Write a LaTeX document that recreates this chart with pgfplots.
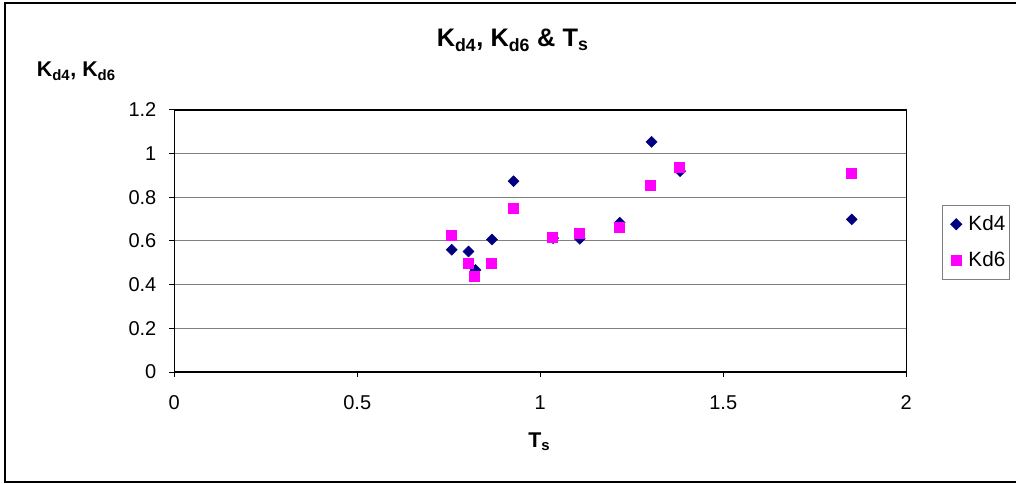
\documentclass[border=0pt]{standalone}
\usepackage{fontspec}
\setmainfont{Liberation Sans}
\usepackage{pgfplots}
\pgfplotsset{compat=1.18}
\definecolor{kdnavy}{RGB}{0,0,128}
\definecolor{kdmag}{RGB}{255,0,255}
\definecolor{gridgray}{RGB}{128,128,128}
\begin{document}
\begin{tikzpicture}
\useasboundingbox (0pt,0pt) rectangle (762pt,-363pt);
\draw[line width=1.5pt] (770pt,-2.5pt) -- (3.5pt,-2.5pt) -- (3.5pt,-361.5pt) -- (770pt,-361.5pt);
\begin{axis}[
  at={(130.7pt,-279pt)}, anchor=south west,
  scale only axis, width=549pt, height=196.5pt,
  xmin=0, xmax=2, ymin=0, ymax=1.2,
  xtick={0,0.5,1,1.5,2}, ytick={0,0.2,0.4,0.6,0.8,1,1.2},
  axis line style={black, line width=1pt},
  ymajorgrids, major grid style={gridgray, line width=0.75pt},
  tick align=outside, tick pos=left,
  major tick length=3.75pt,
  tick style={black, line width=0.75pt},
  /pgf/number format/assume math mode=true,
  ticklabel style={font=\fontsize{15}{18}\selectfont},
  yticklabel style={inner sep=0pt, anchor=east, xshift=-9.5pt},
  xticklabel style={inner sep=0pt, anchor=north, yshift=-14pt},
  legend style={at={(1.0488,0.6385)}, anchor=north west, draw=gridgray, line width=0.75pt,
    font=\fontsize{15.5}{18}\selectfont, inner xsep=2pt, inner ysep=4.9pt, row sep=8.2pt,
    nodes={inner xsep=1.5pt, inner ysep=3pt}},
  legend image code/.code={\path[draw=none,fill=none] (0pt,-1pt) rectangle (16pt,1pt); \path[#1, draw=none] plot coordinates {(8.3pt,0pt)};},
  legend cell align=left,
]
\addplot[only marks, mark=square*, mark size=2.9pt, mark options={rotate=45, fill=kdnavy, draw=kdnavy}, color=kdnavy]
coordinates {
(0.758,0.560) (0.804,0.552) (0.823,0.467) (0.868,0.607) (0.927,0.874)
(1.035,0.613) (1.108,0.610) (1.217,0.684) (1.304,1.054) (1.382,0.920) (1.851,0.699)
};
\addlegendentry{Kd4}
\addplot[only marks, mark=square*, mark size=3.75pt, mark options={fill=kdmag, draw=kdmag}, color=kdmag]
coordinates {
(0.756,0.626) (0.803,0.496) (0.820,0.437) (0.865,0.496) (0.925,0.748)
(1.034,0.616) (1.107,0.635) (1.216,0.665) (1.301,0.854) (1.380,0.938) (1.849,0.908)
};
\addlegendentry{Kd6}
\end{axis}
\node[anchor=base, inner sep=0pt, font=\bfseries\fontsize{19}{22}\selectfont] at (384.5pt,-35pt) {K\textsubscript{d4}, K\textsubscript{d6} \& T\textsubscript{s}};
\node[anchor=base west, inner sep=0pt, font=\bfseries\fontsize{16}{19}\selectfont] at (27.5pt,-57.75pt) {K\textsubscript{d4}, K\textsubscript{d6}};
\node[anchor=base, inner sep=0pt, font=\bfseries\fontsize{16}{19}\selectfont] at (404.5pt,-335.5pt) {T\textsubscript{s}};
\end{tikzpicture}
\end{document}
